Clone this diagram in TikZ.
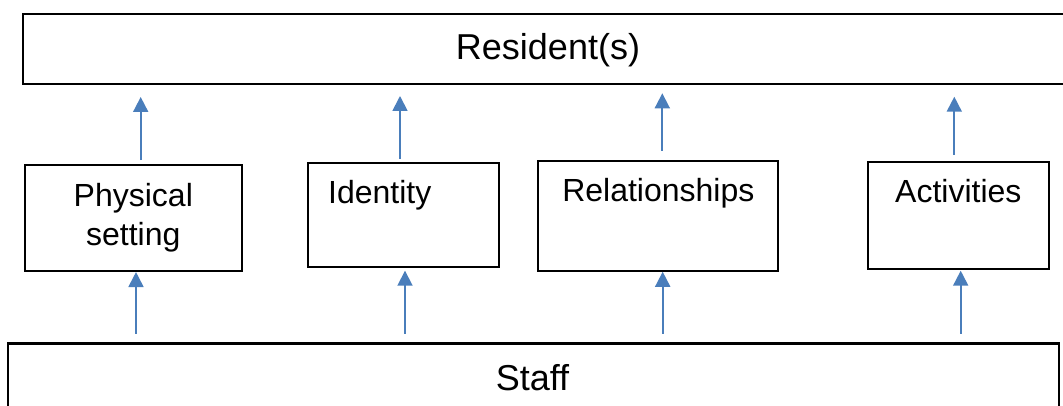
\documentclass[tikz,border=0pt]{standalone}
\usepackage{fontspec}
\setmainfont{Liberation Sans}
\usetikzlibrary{arrows.meta}
\definecolor{arrowblue}{HTML}{4A7EBB}
\tikzset{
  wide/.style={draw=black, line width=2.2pt, inner sep=0pt, outer sep=0pt},
  theme/.style={draw=black, line width=1.8pt, inner sep=0pt, outer sep=0pt},
  bigtxt/.style={inner sep=0pt, anchor=base, font=\fontsize{36}{41}\selectfont},
  smalltxt/.style={inner sep=0pt, anchor=base, font=\fontsize{32}{38}\selectfont},
  arr/.style={draw=arrowblue, line width=1.8pt, -{Triangle[width=15pt,length=15pt]}}
}
\begin{document}
\begin{tikzpicture}[x=1pt, y=-1pt]
\useasboundingbox (0,0) rectangle (1063,406);
\fill[white] (0,0) rectangle (1063,406);

% outer rows: residents on top, staff at the bottom
\node[wide, minimum width=1052pt, minimum height=70pt] (resid) at (549,49.3) {};
\node[wide, minimum width=1051pt, minimum height=77pt] (staff) at (533.5,382) {};

% middle row of themes
\node[theme, minimum width=216.7pt, minimum height=105.7pt] (phys) at (133.4,217.9) {};
\node[theme, minimum width=190.7pt, minimum height=103.4pt] (ident) at (403.7,215) {};
\node[theme, minimum width=240pt, minimum height=109.7pt] (rel) at (658,215.9) {};
\node[theme, minimum width=181pt, minimum height=107.6pt] (act) at (958.5,215.5) {};

% labels
\node[bigtxt] (residT) at (548,60) {Resident(s)};
\node[bigtxt] (staffT) at (532.5,390) {Staff};
\node[smalltxt] (physA) at (133.3,206.7) {Physical};
\node[smalltxt] (physB) at (133.3,245) {setting};
\node[smalltxt, anchor=base west] (identT) at (328,204) {Identity};
\node[smalltxt] (relT) at (658.3,201.7) {Relationships};
\node[smalltxt] (actT) at (958.3,202.3) {Activities};

% arrow columns
\coordinate (l1) at (136,0);   \coordinate (u1) at (140.7,0);
\coordinate (l2) at (405,0);   \coordinate (u2) at (400,0);
\coordinate (l3) at (662.7,0); \coordinate (u3) at (662.3,0);
\coordinate (l4) at (960.7,0); \coordinate (u4) at (954.3,0);

% staff -> themes
\draw[arr, shorten <=10pt, shorten >=1.3pt] (staff.north -| l1) -- (phys.south -| l1);
\draw[arr, shorten <=10pt, shorten >=4pt]   (staff.north -| l2) -- (ident.south -| l2);
\draw[arr, shorten <=10pt, shorten >=1pt]   (staff.north -| l3) -- (rel.south -| l3);
\draw[arr, shorten <=10pt, shorten >=1.4pt] (staff.north -| l4) -- (act.south -| l4);

% themes -> residents
\draw[arr, shorten <=5pt,    shorten >=12.7pt] (phys.north -| u1) -- (resid.south -| u1);
\draw[arr, shorten <=4.3pt,  shorten >=11.7pt] (ident.north -| u2) -- (resid.south -| u2);
\draw[arr, shorten <=10.3pt, shorten >=9pt]    (rel.north -| u3) -- (resid.south -| u3);
\draw[arr, shorten <=6.7pt,  shorten >=12.4pt] (act.north -| u4) -- (resid.south -| u4);
\end{tikzpicture}
\end{document}
